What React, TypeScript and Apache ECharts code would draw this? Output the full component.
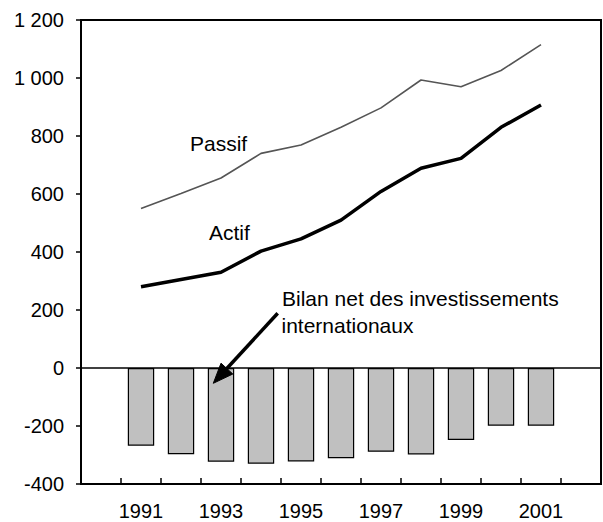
import React, { useEffect, useRef } from "react";
import * as echarts from "echarts";

const years = ["1991", "1992", "1993", "1994", "1995", "1996", "1997", "1998", "1999", "2000", "2001"];
const passif = [550, 602, 655, 740, 769, 830, 897, 993, 970, 1026, 1115];
const actif = [280, 305, 330, 403, 445, 510, 609, 689, 723, 830, 907];
const bilan = [-268, -297, -323, -330, -322, -311, -289, -298, -248, -199, -199];

const yMin = -400;
const yMax = 1200;
const yInterval = 200;

const labelPassif = "Passif";
const labelActif = "Actif";
const labelBilan1 = "Bilan net des investissements";
const labelBilan2 = "internationaux";

const FONT = "'Liberation Sans', Arial, sans-serif";

function fmt(v: number): string {
  return String(v).replace(/\B(?=(\d{3})+(?!\d))/g, " ");
}

export default function App() {
  const ref = useRef<HTMLDivElement>(null);
  useEffect(() => {
    const chart = echarts.init(ref.current as HTMLDivElement, null, { renderer: "svg" });
    const cats = ["", ...years, ""];
    const pad = (a: number[]) => [null, ...a, null];
    chart.setOption({
      animation: false,
      backgroundColor: "#fff",
      textStyle: { fontFamily: FONT },
      grid: {
        left: 81,
        right: 2,
        top: 20,
        bottom: 38,
        show: true,
        borderColor: "#000",
        borderWidth: 2,
      },
      xAxis: {
        type: "category",
        data: cats,
        boundaryGap: true,
        axisLine: { show: true, onZero: false, lineStyle: { color: "#000", width: 2 } },
        axisTick: { show: true, inside: true, length: 6, interval: 0, lineStyle: { color: "#000", width: 1.5 } },
        axisLabel: {
          interval: (idx: number) => idx % 2 === 1,
          color: "#000",
          fontSize: 20,
          fontFamily: FONT,
          margin: 17,
        },
        splitLine: { show: false },
      },
      yAxis: {
        type: "value",
        min: yMin,
        max: yMax,
        interval: yInterval,
        axisLine: { show: true, lineStyle: { color: "#000", width: 2 } },
        axisTick: { show: true, inside: false, length: 5, lineStyle: { color: "#000", width: 1.5 } },
        axisLabel: {
          color: "#000",
          fontSize: 20,
          fontFamily: FONT,
          margin: 17,
          formatter: (v: number) => fmt(v),
        },
        splitLine: { show: false },
      },
      series: [
        {
          name: "Bilan",
          type: "bar",
          data: pad(bilan),
          barWidth: "66%",
          itemStyle: { color: "#c0c0c0", borderColor: "#000", borderWidth: 1.2 },
          markLine: {
            silent: true,
            symbol: "none",
            label: { show: false },
            lineStyle: { color: "#000", width: 1.5, type: "solid" },
            data: [{ yAxis: 0 }],
          },
        },
        {
          name: labelPassif,
          type: "line",
          data: pad(passif),
          showSymbol: false,
          symbol: "none",
          lineStyle: { color: "#555555", width: 1.6 },
        },
        {
          name: labelActif,
          type: "line",
          data: pad(actif),
          showSymbol: false,
          symbol: "none",
          lineStyle: { color: "#000000", width: 3.5 },
        },
      ],
      graphic: [
        {
          type: "group",
          z: 100,
          children: [
            {
              type: "text",
              x: 190,
              y: 143,
              z: 100,
              style: { text: labelPassif, fill: "#000", font: `21px ${FONT}`, verticalAlign: "middle", align: "left" },
            },
            {
              type: "text",
              x: 209,
              y: 232.5,
              z: 100,
              style: { text: labelActif, fill: "#000", font: `21px ${FONT}`, verticalAlign: "middle", align: "left" },
            },
            {
              type: "text",
              x: 282,
              y: 298.5,
              z: 100,
              style: { text: labelBilan1, fill: "#000", font: `21px ${FONT}`, verticalAlign: "middle", align: "left" },
            },
            {
              type: "text",
              x: 281.5,
              y: 325,
              z: 100,
              style: { text: labelBilan2, fill: "#000", font: `21px ${FONT}`, verticalAlign: "middle", align: "left" },
            },
            {
              type: "line",
              z: 100,
              shape: { x1: 277.7, y1: 313.3, x2: 225, y2: 370.5 },
              style: { stroke: "#000", lineWidth: 3.5 },
            },
            {
              type: "polygon",
              z: 100,
              shape: { points: [[213.3, 383.3], [232.8, 374], [221, 363.2]] },
              style: { fill: "#000", stroke: "#000", lineWidth: 1 },
            },
          ],
        },
      ],
    });
    return () => chart.dispose();
  }, []);
  return (
    <div
      ref={ref}
      style={{ position: "fixed", left: 0, top: 0, width: 603, height: 522, background: "#fff" }}
    />
  );
}
